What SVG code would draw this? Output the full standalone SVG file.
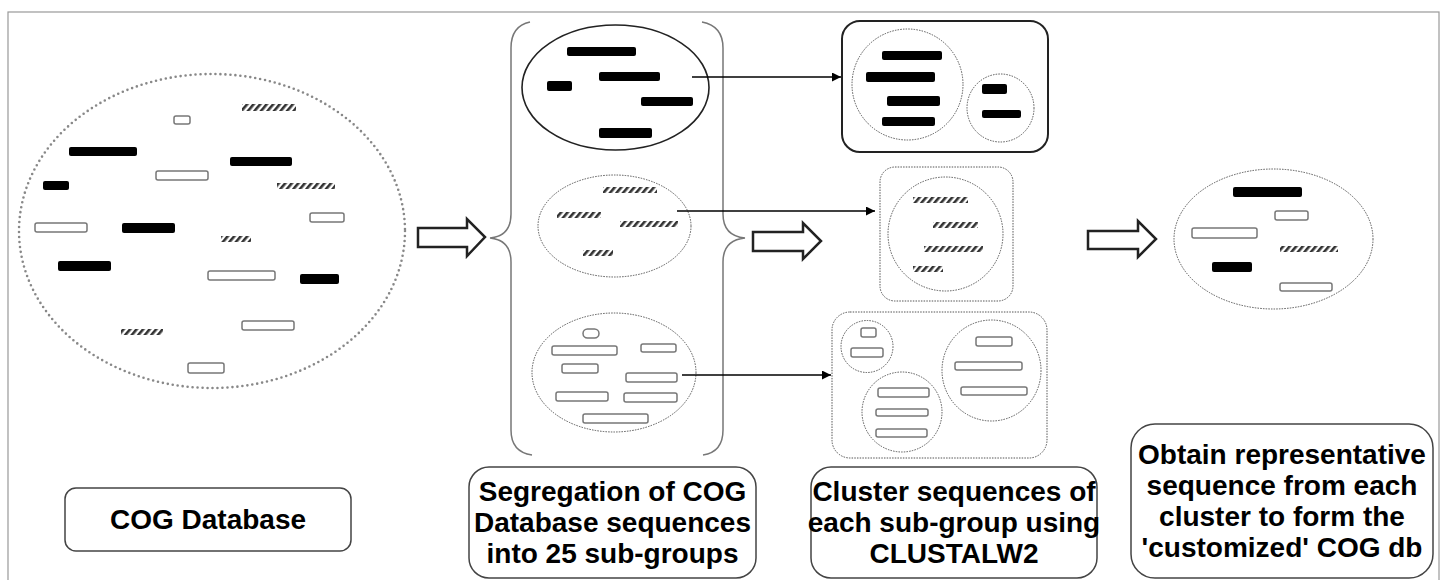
<svg xmlns="http://www.w3.org/2000/svg" width="1442" height="580" viewBox="0 0 1442 580">
<defs>
<pattern id="hatch" patternUnits="userSpaceOnUse" width="5" height="5" patternTransform="rotate(40)">
<rect x="0" y="0" width="2.6" height="5" fill="#333"/>
</pattern>
<marker id="ah" viewBox="0 0 10 10" refX="10" refY="5" markerWidth="10" markerHeight="9" markerUnits="userSpaceOnUse" orient="auto">
<path d="M0,0 L10,5 L0,10 Z" fill="#000"/>
</marker>
</defs>
<style>
.blk{fill:#000;}
.out{fill:#fff;stroke:#777;stroke-width:1.5;}
.hat{fill:url(#hatch);}
.dotbig{fill:none;stroke:#888;stroke-width:2.6;stroke-dasharray:0 5;stroke-linecap:round;}
.dot{fill:none;stroke:#555;stroke-width:1;stroke-dasharray:1.5 1.2;}
.solid{fill:none;stroke:#222;stroke-width:1.6;}
.brace{fill:none;stroke:#777;stroke-width:1.5;}
.open{fill:#fff;stroke:#222;stroke-width:2.5;stroke-linejoin:miter;}
.con{stroke:#000;stroke-width:1.3;fill:none;}
.lbox{fill:#fff;stroke:#444;stroke-width:1.5;}
.lbl{font-family:"Liberation Sans",Arial,sans-serif;font-weight:bold;font-size:28px;fill:#000;text-anchor:middle;}
</style>
<rect x="8" y="12" width="1431" height="590" fill="none" stroke="#999" stroke-width="1.2"/>

<g id="cog-db-ellipse">
<ellipse cx="212" cy="231" rx="193" ry="157" class="dotbig"/>
<rect x="174" y="116" width="16" height="8" rx="2" class="out"/>
<rect x="69" y="147" width="68" height="9" rx="2" class="blk"/>
<rect x="156" y="171" width="52" height="9" rx="2" class="out"/>
<rect x="43" y="181" width="26" height="9" rx="2" class="blk"/>
<rect x="35" y="223" width="52" height="9" rx="2" class="out"/>
<rect x="122" y="223" width="53" height="10" rx="2" class="blk"/>
<rect x="242" y="104" width="54" height="7" class="hat"/>
<rect x="230" y="157" width="62" height="9" rx="2" class="blk"/>
<rect x="277" y="183" width="58" height="6" class="hat"/>
<rect x="310" y="213" width="34" height="9" rx="2" class="out"/>
<rect x="221" y="236" width="30" height="6" class="hat"/>
<rect x="58" y="261" width="53" height="10" rx="2" class="blk"/>
<rect x="208" y="271" width="67" height="9" rx="2" class="out"/>
<rect x="300" y="274" width="39" height="10" rx="2" class="blk"/>
<rect x="121" y="329" width="42" height="6" class="hat"/>
<rect x="242" y="321" width="52" height="9" rx="2" class="out"/>
<rect x="188" y="363" width="36" height="10" rx="2" class="out"/>
</g>

<g id="braces">
<path class="brace" d="M530,22 Q511,26 511,48 V214 Q511,236 490,238 Q511,240 511,262 V430 Q511,452 532,455"/>
<path class="brace" d="M702,22 Q723,26 723,48 V214 Q723,236 745,238 Q723,240 723,262 V430 Q723,452 703,455"/>
</g>

<g id="subgroup-1">
<ellipse cx="615.5" cy="87.5" rx="93.5" ry="62.5" class="solid"/>
<rect x="567" y="47" width="69" height="9" rx="2" class="blk"/>
<rect x="599" y="72" width="61" height="9" rx="2" class="blk"/>
<rect x="547" y="81" width="25" height="10" rx="2" class="blk"/>
<rect x="641" y="97" width="52" height="9" rx="2" class="blk"/>
<rect x="599" y="128" width="53" height="10" rx="2" class="blk"/>
</g>

<g id="subgroup-2">
<ellipse cx="614.5" cy="226" rx="76.5" ry="51" class="dot"/>
<rect x="603" y="187" width="54" height="6" class="hat"/>
<rect x="557" y="212" width="44" height="6" class="hat"/>
<rect x="620" y="221" width="58" height="6" class="hat"/>
<rect x="583" y="250" width="30" height="6" class="hat"/>
</g>

<g id="subgroup-3">
<ellipse cx="614" cy="372.5" rx="82" ry="59.5" class="dot"/>
<rect x="583" y="329" width="16" height="9" rx="4.5" class="out"/>
<rect x="552" y="346" width="65" height="9" rx="2" class="out"/>
<rect x="641" y="344" width="35" height="8" rx="2" class="out"/>
<rect x="562" y="364" width="36" height="9" rx="2" class="out"/>
<rect x="626" y="373" width="51" height="9" rx="2" class="out"/>
<rect x="556" y="392" width="52" height="9" rx="2" class="out"/>
<rect x="624" y="393" width="53" height="9" rx="2" class="out"/>
<rect x="583" y="414" width="65" height="9" rx="2" class="out"/>
</g>

<g id="cluster-1">
<rect x="842" y="21" width="206" height="131" rx="18" fill="#fff" stroke="#222" stroke-width="2"/>
<ellipse cx="907.5" cy="84.5" rx="55.5" ry="55.5" class="dot"/>
<ellipse cx="1000.5" cy="108" rx="33.5" ry="34" class="dot"/>
<rect x="882" y="51" width="60" height="9" rx="2" class="blk"/>
<rect x="866" y="72" width="69" height="10" rx="2" class="blk"/>
<rect x="887" y="96" width="53" height="10" rx="2" class="blk"/>
<rect x="882" y="117" width="53" height="9" rx="2" class="blk"/>
<rect x="982" y="84" width="25" height="10" rx="2" class="blk"/>
<rect x="982" y="110" width="39" height="8" rx="2" class="blk"/>
</g>

<g id="cluster-2">
<rect x="880" y="167" width="133" height="134" rx="15" fill="#fff" class="dot"/>
<ellipse cx="945.5" cy="234" rx="57.5" ry="57" class="dot"/>
<rect x="913" y="197" width="55" height="6" class="hat"/>
<rect x="933" y="222" width="45" height="6" class="hat"/>
<rect x="924" y="246" width="59" height="6" class="hat"/>
<rect x="913" y="266" width="30" height="6" class="hat"/>
</g>

<g id="cluster-3">
<rect x="832" y="312" width="215" height="146" rx="18" fill="#fff" class="dot"/>
<circle cx="867" cy="346.5" r="26" class="dot"/>
<circle cx="902" cy="412" r="40" class="dot"/>
<ellipse cx="991.5" cy="370.5" rx="49.5" ry="50.5" class="dot"/>
<rect x="861" y="328" width="15" height="9" rx="2" class="out"/>
<rect x="851" y="348" width="32" height="9" rx="2" class="out"/>
<rect x="878" y="388" width="51" height="9" rx="2" class="out"/>
<rect x="876" y="409" width="52" height="7" rx="2" class="out"/>
<rect x="876" y="429" width="51" height="8" rx="2" class="out"/>
<rect x="976" y="337" width="36" height="9" rx="2" class="out"/>
<rect x="955" y="362" width="67" height="8" rx="2" class="out"/>
<rect x="961" y="387" width="66" height="8" rx="2" class="out"/>
</g>

<g id="customized-db">
<ellipse cx="1273.5" cy="239" rx="99.5" ry="70" class="dot"/>
<rect x="1233" y="187" width="69" height="10" rx="2" class="blk"/>
<rect x="1275" y="211" width="33" height="9" rx="2" class="out"/>
<rect x="1192" y="228" width="65" height="10" rx="2" class="out"/>
<rect x="1280" y="246" width="58" height="6" class="hat"/>
<rect x="1212" y="262" width="40" height="10" rx="2" class="blk"/>
<rect x="1280" y="283" width="52" height="8" rx="2" class="out"/>
</g>

<g id="connectors">
<path class="open" d="M418,228 H467 V219 L485,237 L467,256 V247 H418 Z"/>
<path class="open" d="M753,232 H803 V223 L821,241 L803,259 V251 H753 Z"/>
<path class="open" d="M1088,231 H1138 V221 L1156,239 L1138,257 V249 H1088 Z"/>
<line class="con" x1="692" y1="77" x2="841" y2="77" marker-end="url(#ah)"/>
<line class="con" x1="677" y1="211" x2="875" y2="211" marker-end="url(#ah)"/>
<line class="con" x1="682" y1="375" x2="831" y2="375" marker-end="url(#ah)"/>
</g>

<g id="label-cog">
<rect x="65" y="488" width="286" height="63" rx="11" class="lbox"/>
<text class="lbl" x="208" y="529">COG Database</text>
</g>
<g id="label-segregation">
<rect x="469" y="467" width="287" height="111" rx="20" class="lbox"/>
<text class="lbl" x="612.5" y="501">Segregation of COG</text>
<text class="lbl" x="612.5" y="532">Database sequences</text>
<text class="lbl" x="612.5" y="563">into 25 sub-groups</text>
</g>
<g id="label-cluster">
<rect x="811" y="467" width="286" height="111" rx="20" class="lbox"/>
<text class="lbl" x="954" y="501">Cluster sequences of</text>
<text class="lbl" x="954" y="532">each sub-group using</text>
<text class="lbl" x="954" y="563">CLUSTALW2</text>
</g>
<g id="label-obtain">
<rect x="1131" y="424" width="302" height="154" rx="24" class="lbox"/>
<text class="lbl" x="1282" y="464">Obtain representative</text>
<text class="lbl" x="1282" y="495">sequence from each</text>
<text class="lbl" x="1282" y="526">cluster to form the</text>
<text class="lbl" x="1282" y="557">'customized' COG db</text>
</g>
</svg>
